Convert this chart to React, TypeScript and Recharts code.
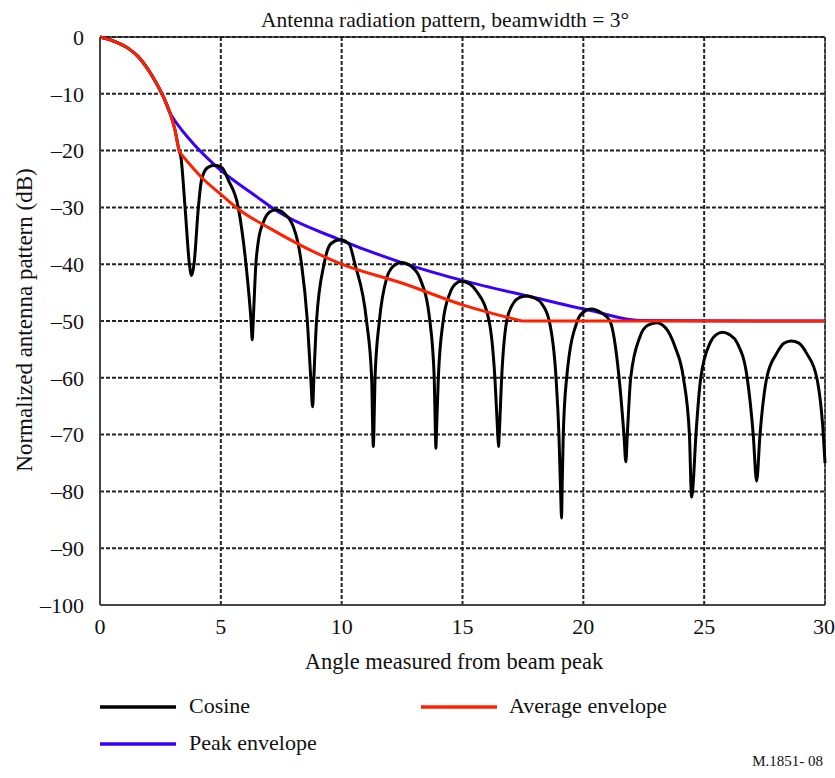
import { LineChart, Line, XAxis, YAxis, CartesianGrid, ReferenceLine } from "recharts"

// [angle (deg), level (dB)]
const cosinePoints: [number, number][] = [
  [0, 0], [0.62, -0.8], [1.17, -2.0], [1.59, -3.5], [2.0, -5.8], [2.34, -8.2],
  [2.62, -10.5], [2.9, -13.4], [3.1, -16.3], [3.27, -19.9], [3.35, -21.2],
  [3.52, -30], [3.7, -40], [3.79, -42],
  [3.89, -40], [4.07, -30], [4.2, -25.2], [4.45, -23.0], [4.76, -22.6], [5.05, -23.0],
  [5.31, -25.2], [5.72, -30], [6.04, -40], [6.25, -50], [6.3, -53.3],
  [6.34, -50], [6.45, -40], [6.55, -36], [6.76, -32.6], [7.02, -30.8], [7.28, -30.4],
  [7.6, -31.0], [8.0, -33.4], [8.18, -36], [8.34, -40], [8.58, -50], [8.72, -60], [8.8, -65.1],
  [8.85, -60], [8.96, -50], [9.27, -40], [9.55, -36.4], [9.93, -35.7], [10.3, -36.4],
  [10.55, -40], [11.03, -50], [11.24, -60], [11.29, -70], [11.31, -72.1],
  [11.33, -70], [11.38, -60], [11.56, -50], [11.86, -42.5], [12.15, -40.3], [12.48, -39.7],
  [12.85, -40.3], [13.24, -42.5], [13.65, -50], [13.83, -60], [13.88, -70], [13.9, -72.4],
  [13.92, -70], [14.0, -60], [14.2, -50], [14.48, -45.1], [14.7, -43.5], [14.96, -43.0],
  [15.3, -43.5], [15.59, -44.8], [16.1, -50], [16.34, -60], [16.46, -70], [16.49, -72.1],
  [16.52, -70], [16.62, -60], [16.83, -50], [17.1, -46.9], [17.35, -45.9], [17.65, -45.6],
  [17.95, -45.9], [18.27, -46.9], [18.59, -50], [18.87, -60], [18.99, -70], [19.06, -80], [19.1, -84.7],
  [19.12, -80], [19.17, -70], [19.31, -60], [19.75, -50], [19.98, -48.5], [20.34, -47.9],
  [20.72, -48.5], [21.1, -50], [21.48, -60], [21.68, -70], [21.76, -74.8],
  [21.82, -70], [21.96, -60], [22.34, -52.8], [22.65, -50.8], [23.03, -50.3], [23.4, -51.2],
  [23.79, -54.5], [24.14, -60], [24.39, -70], [24.48, -81],
  [24.52, -80], [24.66, -70], [24.86, -60], [25.24, -53.9], [25.5, -52.4], [25.76, -52],
  [26.05, -52.4], [26.37, -53.9], [26.78, -60], [27.03, -70], [27.17, -78.2],
  [27.31, -70], [27.59, -60], [28.0, -55.7], [28.3, -53.9], [28.6, -53.5], [28.92, -53.9],
  [29.24, -55.7], [29.66, -60], [29.93, -70], [30, -75],
]

// average envelope: main lobe, sidelobe decay, -50 dB floor
const averageMainLobe: [number, number][] = [
  [0, 0], [0.62, -0.8], [1.17, -2.0], [1.59, -3.5], [2.0, -5.8], [2.34, -8.2],
  [2.62, -10.5], [2.9, -13.4], [3.1, -16.3], [3.27, -19.9], [3.35, -20.6],
]
const averageSidelobes: [number, number][] = [
  [3.35, -20.6], [4.27, -25.0], [5.03, -27.8], [5.79, -30.5], [7.03, -33.7], [8.41, -36.9],
  [10.0, -40.0], [12.55, -43.4], [15.03, -47.2], [17.45, -50],
]
const averageFloor: [number, number][] = [[17.45, -50], [30, -50]]

const peakPoints: [number, number][] = [
  [0, 0], [0.62, -0.8], [1.17, -2.0], [1.59, -3.5], [2.0, -5.8], [2.34, -8.2],
  [2.62, -10.5], [2.9, -13.4], [3.03, -14.3], [3.72, -18.1], [4.76, -22.6],
  [6.48, -28.1], [7.31, -30.6], [9.93, -35.7], [12.55, -39.8], [15.03, -42.9],
  [17.79, -45.7], [20.34, -48.2], [22.34, -49.9], [30, -50],
]

const xTicks = [0, 5, 10, 15, 20, 25, 30]
const yTicks = [0, -10, -20, -30, -40, -50, -60, -70, -80, -90, -100]
const yTickLabels = ["0", "–10", "–20", "–30", "–40", "–50", "–60", "–70", "–80", "–90", "–100"]

const FONT = "Liberation Serif, DejaVu Serif, serif"
const RED = "#ff2200"
const BLUE = "#3a00ff"

const toRows = (pts: [number, number][]) => pts.map(([x, y]) => ({ x, y }))

export default function App() {
  return (
    <div style={{ position: "absolute", left: 0, top: 0, width: 835, height: 778, background: "#fff", fontFamily: FONT }}>
      <LineChart width={835} height={778} margin={{ top: 37, right: 10, bottom: 133, left: 0 }}>
        <CartesianGrid stroke="#222" strokeWidth={2} strokeDasharray="4 2" />
        <XAxis
          dataKey="x"
          type="number"
          domain={[0, 30]}
          ticks={xTicks}
          height={40}
          tickLine={false}
          tickMargin={7}
          axisLine={{ stroke: "#444", strokeWidth: 2 }}
          tick={{ fill: "#111", fontSize: 22, style: { fontFamily: FONT } }}
        />
        <YAxis
          dataKey="y"
          type="number"
          domain={[-100, 0]}
          ticks={yTicks}
          width={100}
          tickLine={false}
          tickMargin={10}
          axisLine={{ stroke: "#444", strokeWidth: 2 }}
          tickFormatter={(v: number) => yTickLabels[yTicks.indexOf(v)]}
          tick={{ fill: "#111", fontSize: 22, style: { fontFamily: FONT } }}
        />
        <ReferenceLine y={0} stroke="#222" strokeWidth={1.5} />
        <ReferenceLine x={30} stroke="#444" strokeWidth={1.5} />
        <Line data={toRows(peakPoints)} dataKey="y" type="monotone" stroke={BLUE} strokeWidth={3} dot={false} isAnimationActive={false} />
        <Line data={toRows(cosinePoints)} dataKey="y" type="monotone" stroke="#000" strokeWidth={3} dot={false} isAnimationActive={false} />
        <Line data={toRows(averageMainLobe)} dataKey="y" type="monotone" stroke={RED} strokeWidth={3} dot={false} isAnimationActive={false} />
        <Line data={toRows(averageSidelobes)} dataKey="y" type="monotone" stroke={RED} strokeWidth={3} dot={false} isAnimationActive={false} />
        <Line data={toRows(averageFloor)} dataKey="y" type="linear" stroke={RED} strokeWidth={3} dot={false} isAnimationActive={false} />
      </LineChart>

      {/* titles, legend and reference number */}
      <svg width={835} height={778} style={{ position: "absolute", left: 0, top: 0, pointerEvents: "none", fontFamily: FONT }}>
        <g fill="#111">
          <text x={445} y={27} fontSize={21.5} textAnchor="middle">Antenna radiation pattern, beamwidth = 3°</text>
          <text x={454} y={669} fontSize={22.5} textAnchor="middle">Angle measured from beam peak</text>
          <text transform="translate(32, 320) rotate(-90)" fontSize={23} textAnchor="middle">
            Normalized antenna pattern (dB)
          </text>

          <line x1={100} x2={176} y1={707} y2={707} stroke="#000" strokeWidth={3.5} />
          <text x={189} y={713} fontSize={22}>Cosine</text>
          <line x1={421} x2={497} y1={707} y2={707} stroke={RED} strokeWidth={3.5} />
          <text x={509} y={713} fontSize={22}>Average envelope</text>
          <line x1={100} x2={176} y1={744} y2={744} stroke={BLUE} strokeWidth={3.5} />
          <text x={189} y={750} fontSize={22}>Peak envelope</text>

          <text x={823} y={766} fontSize={15} textAnchor="end">M.1851- 08</text>
        </g>
      </svg>
    </div>
  )
}
